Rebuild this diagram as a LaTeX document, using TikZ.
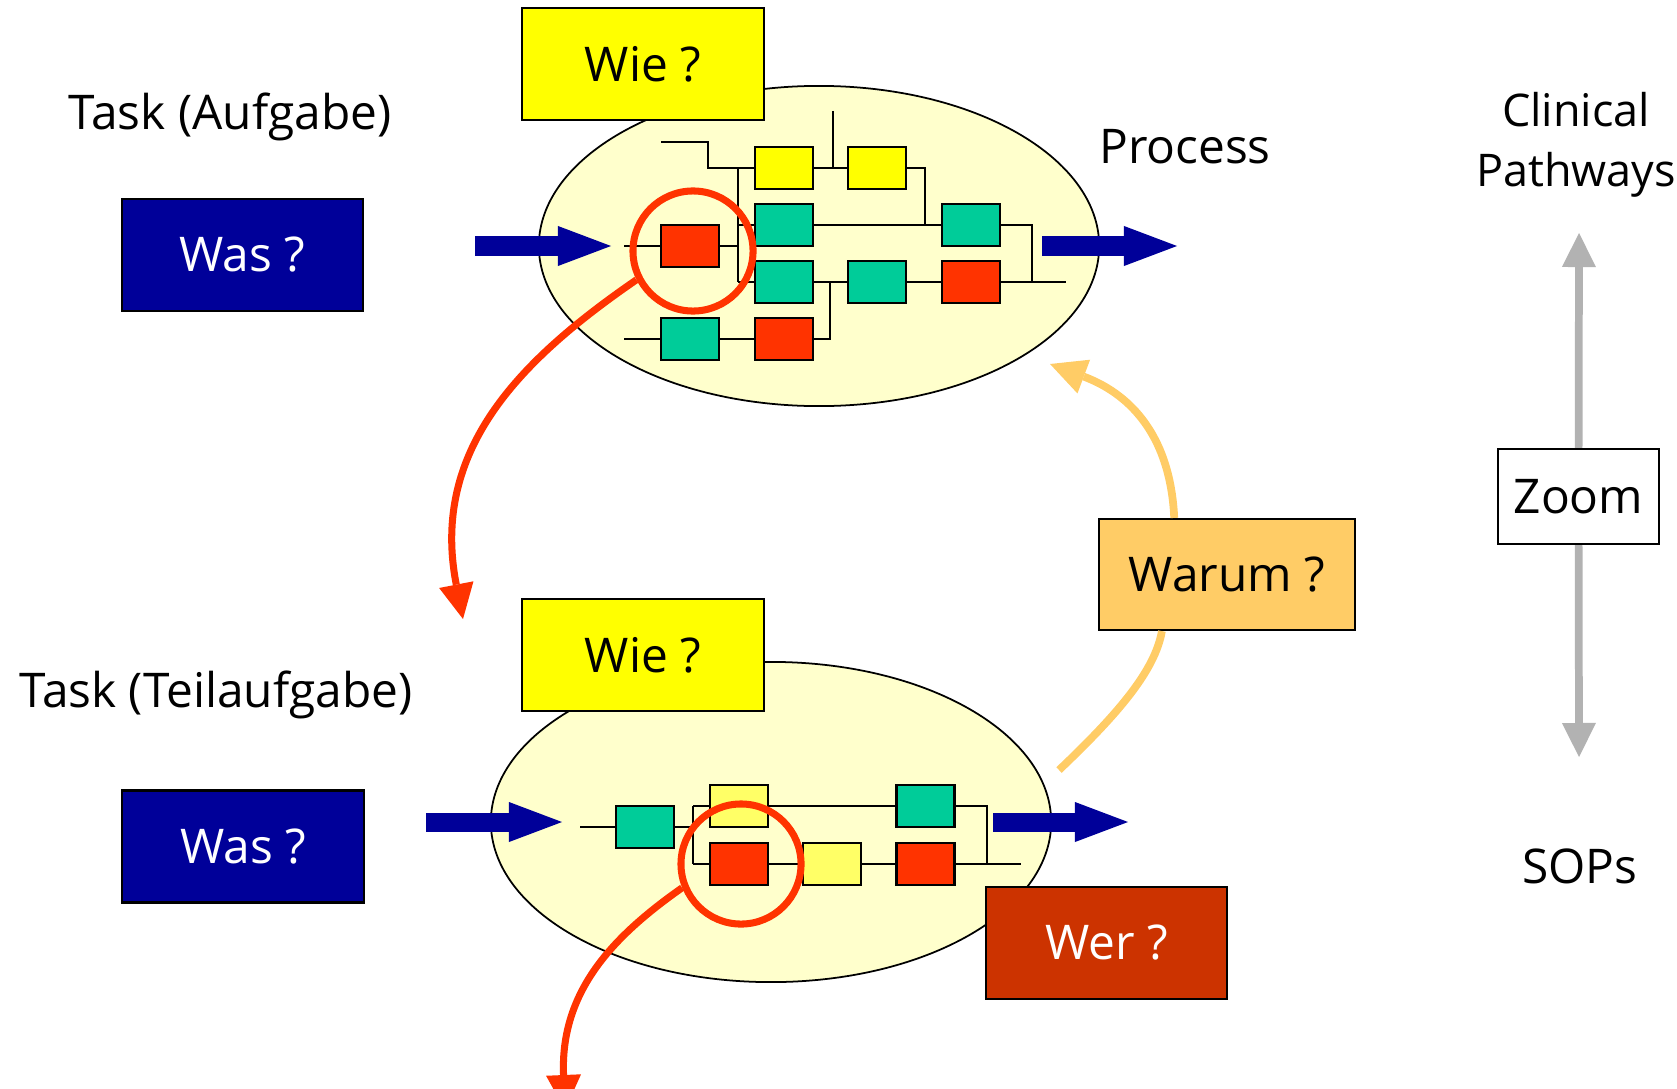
\documentclass[tikz,border=0pt]{standalone}
\usepackage{fontspec}
\setmainfont{Open Sans}
\usetikzlibrary{arrows.meta,shapes.geometric}
\definecolor{wieyellow}{HTML}{FFFF00}
\definecolor{paleyellow}{HTML}{FFFFCC}
\definecolor{stepteal}{HTML}{00CC99}
\definecolor{stepred}{HTML}{FF3300}
\definecolor{steplight}{HTML}{FFFF66}
\definecolor{wasblue}{HTML}{000099}
\definecolor{warumorange}{HTML}{FFCC66}
\definecolor{werred}{HTML}{CC3300}
\definecolor{zoomgray}{HTML}{B2B2B2}
\tikzset{
  process/.style={ellipse,draw,line width=0.5pt,fill=paleyellow,minimum width=5.6cm,minimum height=3.2cm,inner sep=0pt},
  question/.style={draw,line width=0.6pt,minimum width=2.41cm,minimum height=1.12cm,inner sep=0pt},
  activity/.style={draw,line width=0.7pt,minimum width=5.8mm,minimum height=4.2mm,inner sep=0pt},
  tl/.style={activity,fill=stepteal},
  rd/.style={activity,fill=stepred},
  yl/.style={activity,fill=wieyellow},
  ly/.style={activity,fill=steplight},
  wire/.style={line width=0.5pt},
  lens/.style={circle,draw=stepred,line width=2pt,minimum size=1.2cm,inner sep=0pt},
  bluearrow/.style={wasblue,line width=1.9mm,-{Triangle[length=5.3mm,width=4mm,line width=0pt]}},
  zoomin/.style={stepred,line width=2pt,-{Triangle[length=3.5mm,width=3.5mm,line width=0pt]}},
  warumarrow/.style={warumorange,line width=2.2pt,-{Triangle[length=3.6mm,width=3.6mm,line width=0pt]}},
  zoomarrow/.style={zoomgray,line width=2.2pt,-{Triangle[length=3.4mm,width=3.4mm,line width=0pt]}}
}
\begin{document}
\begin{tikzpicture}[x=0.01cm,y=-0.01cm,font=\fontsize{13.6}{17}\selectfont]
  \useasboundingbox (0,0) rectangle (1677,1088);
  \node (e1) [process] at (819,246) {};
  \node (e2) [process] at (771,822) {};

  \node (wie1) [question,fill=wieyellow] at (643,64) {Wie ?};
  \node (wie2) [question,fill=wieyellow] at (643,655) {Wie ?};
  \node (was1) [question,fill=wasblue,text=white] at (242.5,255) {Was ?};
  \node (was2) [question,fill=wasblue,text=white] at (243,846.5) {Was ?};
  \node (task1) at (230,117) {Task (Aufgabe)};
  \node (task2) at (216,695) {Task (Teilaufgabe)};
  \node (proc) at (1185,147) {Process};
  \node (cp) [align=center,font=\fontsize{12.8}{17}\selectfont] at (1576,145) {Clinical\\Pathways};
  \node (sops) at (1580,866) {SOPs};

  \node (y1a) [yl] at (784,168) {};
  \node (y1b) [yl] at (877,168) {};
  \node (t1a) [tl] at (784,225) {};
  \node (t1b) [tl] at (971,225) {};
  \node (r1a) [rd] at (690,246) {};
  \node (t1c) [tl] at (784,282) {};
  \node (t1d) [tl] at (877,282) {};
  \node (r1b) [rd] at (971,282) {};
  \node (t1e) [tl] at (690,339) {};
  \node (r1c) [rd] at (784,339) {};
  \coordinate (a1in) at (661,142);
  \coordinate (a1up) at (833,111);
  \coordinate (a1inb) at (624,246);
  \coordinate (a1inc) at (624,339);
  \coordinate (a1out) at (1066,282);
  \begin{scope}[wire]
    \draw (a1in) -- ++(47,0) |- (y1a.west);
    \draw (y1a) -- (y1b);
    \draw (a1up) -- (a1up |- y1a);
    \draw (y1b.east) -- ++(18,0) |- (t1b.west);
    \draw (t1a) -- (t1b);
    \draw (t1b.east) -- ++(31,0) |- (a1out);
    \draw (r1b) -- (a1out);
    \draw (a1inb) -- (r1a);
    \draw (r1a.east) -- ++(18,0) coordinate (a1v);
    \draw (a1v |- y1a) -- (a1v |- t1c);
    \draw (a1v |- t1a) -- (t1a);
    \draw (a1v |- t1c) -- (t1c);
    \draw (t1c) -- (t1d) -- (r1b);
    \draw (r1c.east) -- ++(16,0) |- (t1d.west);
    \draw (a1inc) -- (t1e) -- (r1c);
  \end{scope}

  \node (t2a) [tl] at (645,827) {};
  \node (y2a) [ly] at (739,806) {};
  \node (r2a) [rd] at (739,864) {};
  \node (y2b) [ly] at (832,864) {};
  \node (t2b) [tl] at (925.5,806) {};
  \node (r2b) [rd] at (925.5,864) {};
  \coordinate (b1in) at (580,827);
  \coordinate (b1out) at (1021,864);
  \begin{scope}[wire]
    \draw (b1in) -- (t2a);
    \draw (t2a.east) -- ++(18,0) coordinate (b1v);
    \draw (b1v |- y2a) -- (b1v |- r2a);
    \draw (b1v |- y2a) -- (y2a);
    \draw (b1v |- r2a) -- (r2a);
    \draw (y2a) -- (t2b);
    \draw (r2a) -- (y2b) -- (r2b);
    \draw (t2b.east) -- ++(31,0) |- (b1out);
    \draw (r2b) -- (b1out);
  \end{scope}

  \coordinate (in1a) at (475,246);
  \coordinate (in1b) at (611,246);
  \coordinate (out1a) at (1042,246);
  \coordinate (out1b) at (1177,246);
  \coordinate (in2a) at (426,822);
  \coordinate (in2b) at (562,822);
  \coordinate (out2a) at (993,822);
  \coordinate (out2b) at (1128,822);
  \draw[bluearrow] (in1a) -- (in1b);
  \draw[bluearrow] (out1a) -- (out1b);
  \draw[bluearrow] (in2a) -- (in2b);
  \draw[bluearrow] (out2a) -- (out2b);

  \node (c1) [lens] at (693,251) {};
  \node (c2) [lens] at (741,864) {};
  \coordinate (c1down) at (463,619);
  \coordinate (c2down) at (565,1110);
  \draw[zoomin] (c1.207) .. controls (520,360) and (430,450) .. (c1down);
  \draw[zoomin] (c2.202) .. controls (615,935) and (560,990) .. (c2down);

  \node (wer) [question,fill=werred,text=white] at (1106.5,943) {Wer ?};
  \coordinate (wstart) at (1059,770);
  \coordinate (wend) at (1050,364);
  \node (warum) [question,fill=warumorange,minimum width=2.56cm,minimum height=1.11cm] at (1227,574.5) {Warum ?};
  \draw[warumarrow] (wstart) .. controls (1120,712) and (1155,670) .. (warum.221)
    (warum.133) .. controls (1170,430) and (1125,392) .. (wend);

  \node (zoom) [draw,line width=0.6pt,minimum width=1.61cm,minimum height=0.95cm,inner sep=0pt] at (1578.5,496.5) {Zoom};
  \coordinate (zup) at (1579,233);
  \coordinate (zdown) at (1579,757);
  \draw[zoomarrow] (zoom) -- (zup);
  \draw[zoomarrow] (zoom) -- (zdown);
\end{tikzpicture}
\end{document}
